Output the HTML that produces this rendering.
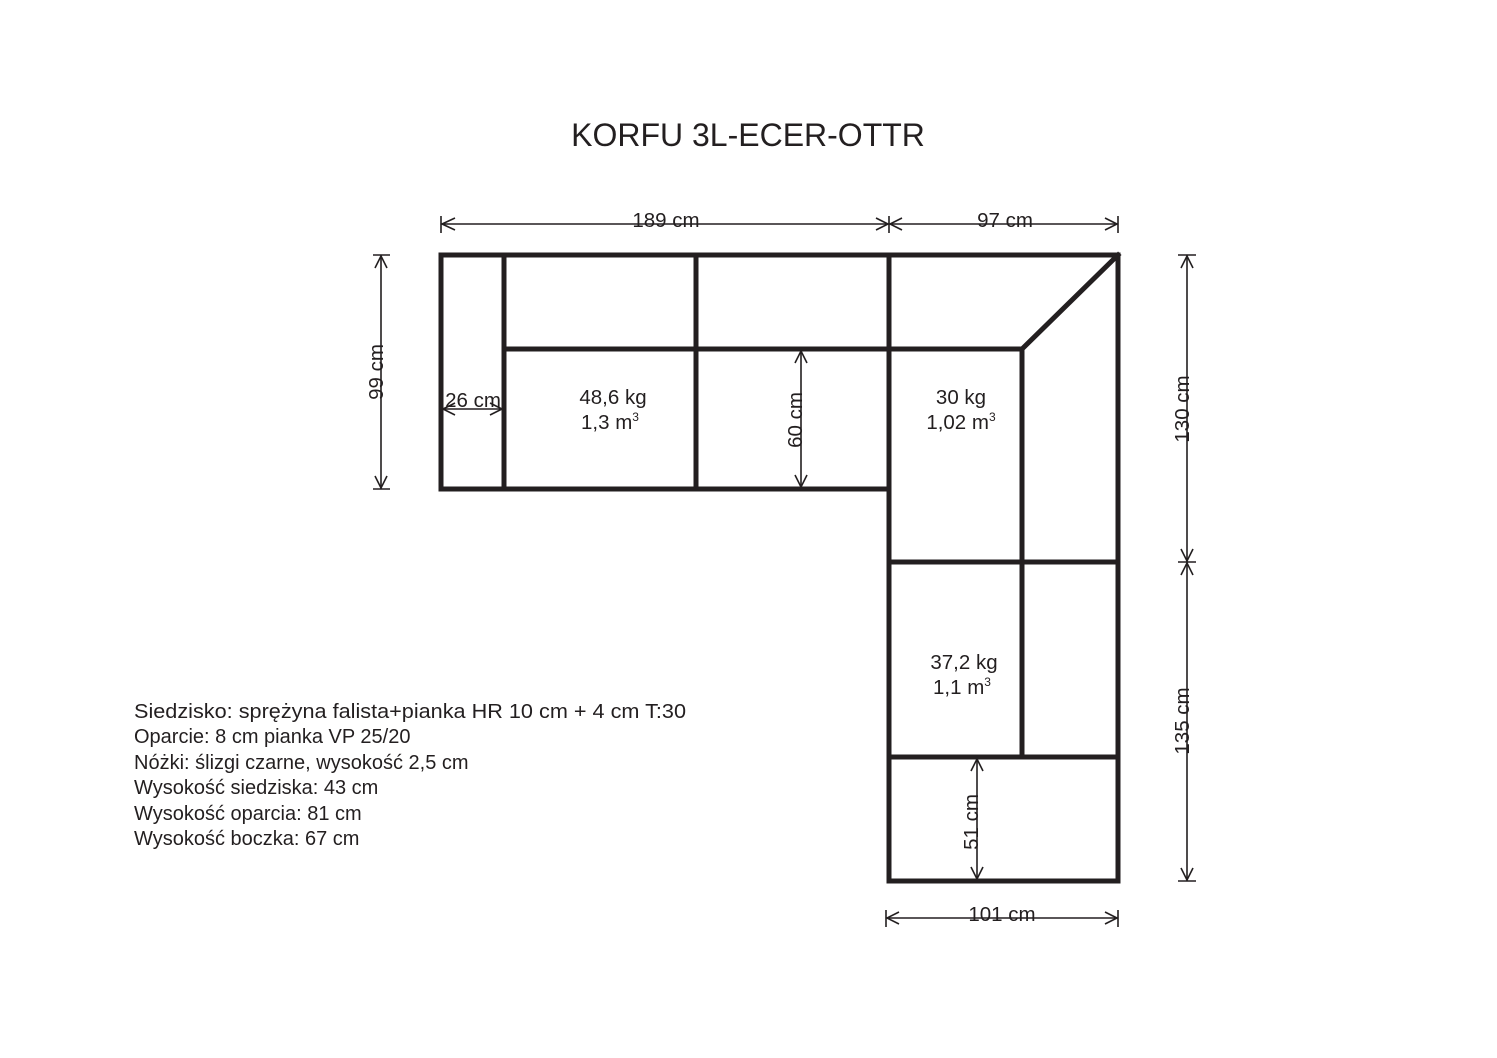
<!DOCTYPE html>
<html><head><meta charset="utf-8"><style>
html,body{margin:0;padding:0;background:#fff}
svg{display:block}
text{font-family:"Liberation Sans",Arial,sans-serif;fill:#231f20}
</style></head><body>
<svg width="1497" height="1058" viewBox="0 0 1497 1058" xmlns="http://www.w3.org/2000/svg">
<rect width="1497" height="1058" fill="#fff"/>
<text x="748" y="146" font-size="32" text-anchor="middle">KORFU 3L-ECER-OTTR</text>

<g stroke="#231f20" stroke-width="5" fill="none" stroke-linecap="square">
  <path d="M441 255 H1118 V881 H889 V489 H441 Z"/>
  <path d="M504 255 V489 M696 255 V489 M889 255 V489"/>
  <path d="M504 349 H1022 L1118 255"/>
  <path d="M1022 349 V757"/>
  <path d="M889 562 H1118 M889 757 H1118"/>
</g>

<g stroke="#231f20" stroke-width="1.6" fill="none">
  <path d="M441 224 H1118 M441 216 V233 M889 216 V233 M1118 216 V233"/>
  <path d="M455 218 L442 224 L455 230 M876 218 L888 224 L876 230 M902 218 L890 224 L902 230 M1105 218 L1117 224 L1105 230"/>
  <path d="M381 255 V489 M373 255 H390 M373 489 H390"/>
  <path d="M375 268 L381 256 L387 268 M375 476 L381 488 L387 476"/>
  <path d="M1187 255 V881 M1178 255 H1196 M1178 562 H1196 M1178 881 H1196"/>
  <path d="M1181 268 L1187 256 L1193 268 M1181 549 L1187 561 L1193 549 M1181 575 L1187 563 L1193 575 M1181 868 L1187 880 L1193 868"/>
  <path d="M886 918 H1118 M886 910 V927 M1118 910 V927"/>
  <path d="M899 912 L887 918 L899 924 M1105 912 L1117 918 L1105 924"/>
  <path d="M443 409 H502"/>
  <path d="M455 403 L443 409 L455 415 M490 403 L502 409 L490 415"/>
  <path d="M801 351 V487"/>
  <path d="M795 363 L801 351 L807 363 M795 475 L801 487 L807 475"/>
  <path d="M977 759 V879"/>
  <path d="M971 771 L977 759 L983 771 M971 867 L977 879 L983 867"/>
</g>

<g font-size="20.5">
  <text x="666" y="227" text-anchor="middle">189 cm</text>
  <text x="1005" y="227" text-anchor="middle">97 cm</text>
  <text x="1002" y="921" text-anchor="middle">101 cm</text>
  <text x="473" y="407" text-anchor="middle">26 cm</text>
  <text transform="translate(383,372) rotate(-90)" text-anchor="middle">99 cm</text>
  <text transform="translate(802,420) rotate(-90)" text-anchor="middle">60 cm</text>
  <text transform="translate(978,822) rotate(-90)" text-anchor="middle">51 cm</text>
  <text transform="translate(1189,409) rotate(-90)" text-anchor="middle">130 cm</text>
  <text transform="translate(1189,721) rotate(-90)" text-anchor="middle">135 cm</text>

  <text x="613" y="404" text-anchor="middle">48,6 kg</text>
  <text x="610" y="429" text-anchor="middle">1,3 m<tspan font-size="12" dy="-8">3</tspan></text>
  <text x="961" y="404" text-anchor="middle">30 kg</text>
  <text x="961" y="429" text-anchor="middle">1,02 m<tspan font-size="12" dy="-8">3</tspan></text>
  <text x="964" y="669" text-anchor="middle">37,2 kg</text>
  <text x="962" y="694" text-anchor="middle">1,1 m<tspan font-size="12" dy="-8">3</tspan></text>
</g>

<g font-size="20">
  <text x="134" y="718" textLength="552" lengthAdjust="spacingAndGlyphs">Siedzisko: sprężyna falista+pianka HR 10 cm + 4 cm T:30</text>
  <text x="134" y="743">Oparcie: 8 cm pianka VP 25/20</text>
  <text x="134" y="769">Nóżki: ślizgi czarne, wysokość 2,5 cm</text>
  <text x="134" y="794">Wysokość siedziska: 43 cm</text>
  <text x="134" y="820">Wysokość oparcia: 81 cm</text>
  <text x="134" y="845">Wysokość boczka: 67 cm</text>
</g>
</svg>
</body></html>
